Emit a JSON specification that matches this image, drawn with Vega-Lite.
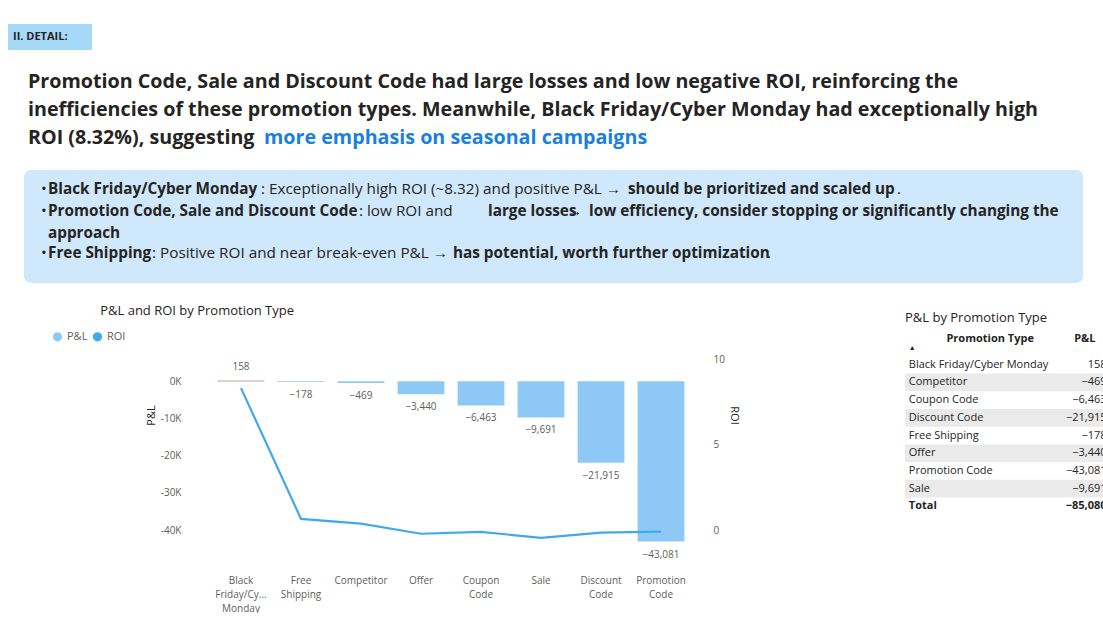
{
  "$schema": "https://vega.github.io/schema/vega-lite/v6.json",
  "padding": 0,
  "background": "white",
  "bounds": "flush",
  "config": {"view": {"stroke": null}, "font": "Open Sans", "concat": {"spacing": 0}},
  "vconcat": [
    {
      "width": 1103,
      "height": 285,
      "encoding": {
        "x": {"field": "x", "type": "quantitative", "scale": {"domain": [0, 1103]}, "axis": null},
        "y": {"field": "y", "type": "quantitative", "scale": {"domain": [0, 285], "reverse": true}, "axis": null}
      },
      "layer": [
        {
          "data": {"values": [{"x": 8, "x2": 92, "y": 24, "y2": 50}]},
          "mark": {"type": "rect", "color": "#a5d9f7"},
          "encoding": {"x2": {"field": "x2"}, "y2": {"field": "y2"}}
        },
        {
          "data": {"values": [{"x": 24, "x2": 1083, "y": 170, "y2": 283}]},
          "mark": {"type": "rect", "color": "#cfe8fb", "cornerRadius": 7},
          "encoding": {"x2": {"field": "x2"}, "y2": {"field": "y2"}}
        },
        {
          "data": {"values": [{"x": 13, "y": 37, "t": "II. DETAIL:"}]},
          "mark": {"type": "text", "align": "left", "baseline": "middle", "fontSize": 11, "fontWeight": "bold", "color": "#252423"},
          "encoding": {"text": {"field": "t"}}
        },
        {
          "data": {"values": [
            {"x": 28, "y": 82, "t": "Promotion Code, Sale and Discount Code had large losses and low negative ROI, reinforcing the"},
            {"x": 28, "y": 110, "t": "inefficiencies of these promotion types. Meanwhile, Black Friday/Cyber Monday had exceptionally high"},
            {"x": 28, "y": 138, "t": "ROI (8.32%), suggesting"}
          ]},
          "mark": {"type": "text", "align": "left", "baseline": "middle", "fontSize": 19.7, "fontWeight": "bold", "color": "#252423"},
          "encoding": {"text": {"field": "t"}}
        },
        {
          "data": {"values": [{"x": 264, "y": 138, "t": "more emphasis on seasonal campaigns"}]},
          "mark": {"type": "text", "align": "left", "baseline": "middle", "fontSize": 19.7, "fontWeight": "bold", "color": "#1a7fe0"},
          "encoding": {"text": {"field": "t"}}
        },
        {
          "data": {"values": [
            {"x": 41, "y": 189, "t": "•"}, {"x": 41, "y": 211, "t": "•"}, {"x": 41, "y": 253, "t": "•"},
            {"x": 261, "y": 189, "t": ": Exceptionally high ROI (~8.32) and positive P&L →"},
            {"x": 897, "y": 189, "t": "."},
            {"x": 359, "y": 211, "t": ": low ROI and"},
            {"x": 567, "y": 211, "t": "→"},
            {"x": 152, "y": 253, "t": ": Positive ROI and near break-even P&L →"},
            {"x": 767, "y": 253, "t": "."}
          ]},
          "mark": {"type": "text", "align": "left", "baseline": "middle", "fontSize": 15.3, "color": "#252423"},
          "encoding": {"text": {"field": "t"}}
        },
        {
          "data": {"values": [
            {"x": 48, "y": 189, "t": "Black Friday/Cyber Monday"},
            {"x": 628, "y": 189, "t": "should be prioritized and scaled up"},
            {"x": 48, "y": 211, "t": "Promotion Code, Sale and Discount Code"},
            {"x": 488, "y": 211, "t": "large losses"},
            {"x": 589, "y": 211, "t": "low efficiency, consider stopping or significantly changing the"},
            {"x": 48, "y": 233, "t": "approach"},
            {"x": 48, "y": 253, "t": "Free Shipping"},
            {"x": 453, "y": 253, "t": "has potential, worth further optimization"}
          ]},
          "mark": {"type": "text", "align": "left", "baseline": "middle", "fontSize": 15.3, "fontWeight": "bold", "color": "#252423"},
          "encoding": {"text": {"field": "t"}}
        }
      ]
    },
    {
      "hconcat": [
        {
          "width": 100,
          "height": 10,
          "data": {"values": [{}]},
          "mark": {"type": "point", "opacity": 0}
        },
        {
          "title": {"text": "P&L and ROI by Promotion Type", "anchor": "start", "fontSize": 13, "fontWeight": "normal", "color": "#252423", "offset": -33, "dx": -45},
          "width": 480,
          "height": 260,
          "data": {"values": [
            {"type": "Black Friday/Cyber Monday", "pl": 158, "roi": 8.32},
            {"type": "Free Shipping", "pl": -178, "roi": 0.66},
            {"type": "Competitor", "pl": -469, "roi": 0.38},
            {"type": "Offer", "pl": -3440, "roi": -0.21},
            {"type": "Coupon Code", "pl": -6463, "roi": -0.10},
            {"type": "Sale", "pl": -9691, "roi": -0.45},
            {"type": "Discount Code", "pl": -21915, "roi": -0.15},
            {"type": "Promotion Code", "pl": -43081, "roi": -0.09}
          ]},
          "encoding": {
            "x": {
              "field": "type", "type": "nominal", "sort": null, "title": null,
              "scale": {"paddingInner": 0.22, "paddingOuter": 0.11},
              "axis": {"labelAngle": 0, "ticks": false, "domain": false, "labelPadding": 30, "labelFontSize": 10, "labelColor": "#605e5c", "labelLineHeight": 14,
                "labelExpr": "datum.label == 'Black Friday/Cyber Monday' ? ['Black', 'Friday/Cy...', 'Monday'] : split(datum.label, ' ')"}
            }
          },
          "layer": [
            {
              "layer": [
                {
                  "mark": {"type": "bar"},
                  "encoding": {
                    "y": {"field": "pl", "type": "quantitative", "title": "P&L", "scale": {"domain": [-44000, 25900], "nice": false},
                      "axis": {"values": [0, -10000, -20000, -30000, -40000], "labelExpr": "datum.value / 1000 + 'K'", "grid": false, "domain": false, "ticks": false, "labelPadding": 30, "labelFontSize": 10, "labelColor": "#605e5c", "titleFontSize": 11, "titleFontWeight": "normal", "titleColor": "#252423"}},
                    "color": {"datum": "P&L", "scale": {"domain": ["P&L", "ROI"], "range": ["#8ec9f5", "#41a8ee"]},
                      "legend": {"orient": "none", "legendX": 52, "legendY": 331, "direction": "horizontal", "title": null, "symbolType": "circle", "symbolSize": 60, "labelFontSize": 11, "labelColor": "#605e5c", "columnPadding": 2}}
                  }
                },
                {
                  "transform": [{"filter": "datum.pl > 0"}],
                  "mark": {"type": "bar", "color": "#e06c4f"},
                  "encoding": {"y": {"field": "pl", "type": "quantitative"}}
                },
                {
                  "transform": [{"filter": "datum.pl < 0"}],
                  "mark": {"type": "text", "baseline": "top", "dy": 8, "fontSize": 10, "color": "#605e5c"},
                  "encoding": {"y": {"field": "pl", "type": "quantitative"}, "text": {"field": "pl", "format": ","}}
                },
                {
                  "transform": [{"filter": "datum.pl > 0"}],
                  "mark": {"type": "text", "baseline": "bottom", "dy": -9, "fontSize": 10, "color": "#605e5c"},
                  "encoding": {"y": {"field": "pl", "type": "quantitative"}, "text": {"field": "pl", "format": ","}}
                }
              ]
            },
            {
              "mark": {"type": "line", "strokeWidth": 2.2},
              "encoding": {
                "y": {"field": "roi", "type": "quantitative", "title": "ROI", "scale": {"domain": [-0.87, 14.36], "nice": false, "zero": false},
                  "axis": {"orient": "right", "values": [0, 5, 10], "grid": false, "domain": false, "ticks": false, "labelPadding": 22, "labelFontSize": 10, "labelColor": "#605e5c", "titleFontSize": 11, "titleFontWeight": "normal", "titleColor": "#252423"}},
                "color": {"datum": "ROI"}
              }
            }
          ],
          "resolve": {"scale": {"y": "independent"}}
        },
        {
          "width": 165,
          "height": 10,
          "data": {"values": [{}]},
          "mark": {"type": "point", "opacity": 0}
        },
        {
          "width": 265,
          "height": 248,
          "data": {"values": [
            {"r": "1", "type": "Black Friday/Cyber Monday", "pl": 158, "roi": 8.32, "shade": 0},
            {"r": "2", "type": "Competitor", "pl": -469, "roi": 0.38, "shade": 1},
            {"r": "3", "type": "Coupon Code", "pl": -6463, "roi": -0.10, "shade": 0},
            {"r": "4", "type": "Discount Code", "pl": -21915, "roi": -0.15, "shade": 1},
            {"r": "5", "type": "Free Shipping", "pl": -178, "roi": 0.66, "shade": 0},
            {"r": "6", "type": "Offer", "pl": -3440, "roi": -0.21, "shade": 1},
            {"r": "7", "type": "Promotion Code", "pl": -43081, "roi": -0.09, "shade": 0},
            {"r": "8", "type": "Sale", "pl": -9691, "roi": -0.45, "shade": 1}
          ]},
          "encoding": {
            "y": {"field": "r", "type": "ordinal", "axis": null, "scale": {"domain": ["x", "h", "g", "1", "2", "3", "4", "5", "6", "7", "8", "t"], "paddingInner": 0, "paddingOuter": 1.18}}
          },
          "layer": [
            {
              "transform": [{"filter": "datum.shade == 1"}],
              "mark": {"type": "rect", "color": "#eaeaea"},
              "encoding": {"x": {"datum": 0, "type": "quantitative", "scale": {"domain": [0, 265]}, "axis": null}, "x2": {"datum": 265}}
            },
            {
              "mark": {"type": "text", "align": "left", "fontSize": 11, "color": "#252423"},
              "encoding": {"x": {"datum": 4, "type": "quantitative"}, "text": {"field": "type"}}
            },
            {
              "mark": {"type": "text", "align": "right", "fontSize": 11, "color": "#252423"},
              "encoding": {"x": {"datum": 213, "type": "quantitative"}, "text": {"field": "pl", "format": ","}}
            },
            {
              "mark": {"type": "text", "align": "right", "fontSize": 11},
              "encoding": {
                "x": {"datum": 260, "type": "quantitative"},
                "text": {"field": "roi", "format": ".2f"},
                "color": {"condition": {"test": "datum.roi < 0", "value": "#b00000"}, "value": "#252423"}
              }
            },
            {
              "data": {"values": [{"r": "x", "t": "P&L by Promotion Type"}]},
              "mark": {"type": "text", "align": "left", "fontSize": 13, "color": "#252423", "dy": 6},
              "encoding": {"x": {"datum": 0, "type": "quantitative"}, "text": {"field": "t"}}
            },
            {
              "data": {"values": [
                {"r": "g", "x": 90, "t": "Promotion Type"},
                {"r": "g", "x": 190, "t": "P&L"},
                {"r": "g", "x": 247, "t": "ROI"}
              ]},
              "mark": {"type": "text", "fontSize": 11, "fontWeight": "bold", "color": "#252423", "dy": -8},
              "encoding": {"x": {"field": "x", "type": "quantitative"}, "text": {"field": "t"}}
            },
            {
              "data": {"values": [{"r": "t", "t": "Total", "pl": -85080, "roi": 0.03}]},
              "layer": [
                {
                  "mark": {"type": "text", "align": "left", "fontSize": 11, "fontWeight": "bold", "color": "#252423"},
                  "encoding": {"x": {"datum": 4, "type": "quantitative"}, "text": {"field": "t"}}
                },
                {
                  "mark": {"type": "text", "align": "right", "fontSize": 11, "fontWeight": "bold", "color": "#252423"},
                  "encoding": {"x": {"datum": 213, "type": "quantitative"}, "text": {"field": "pl", "format": ","}}
                },
                {
                  "mark": {"type": "text", "align": "right", "fontSize": 11, "fontWeight": "bold", "color": "#252423"},
                  "encoding": {"x": {"datum": 260, "type": "quantitative"}, "text": {"field": "roi", "format": ".2f"}}
                }
              ]
            },
            {
              "data": {"values": [{"r": "g", "t": "▲"}]},
              "mark": {"type": "text", "align": "left", "fontSize": 7, "color": "#252423", "dy": 1},
              "encoding": {"x": {"datum": 4, "type": "quantitative"}, "text": {"field": "t"}}
            }
          ]
        }
      ]
    }
  ]
}
